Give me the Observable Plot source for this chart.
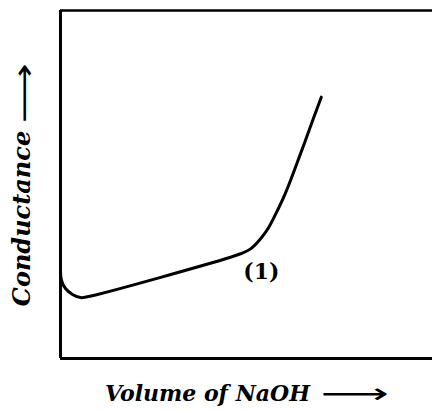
<!DOCTYPE html>
<html>
<head>
<meta charset="utf-8">
<script src="https://cdn.jsdelivr.net/npm/d3@7"></script>
<script src="https://cdn.jsdelivr.net/npm/@observablehq/plot@0.6"></script>
<style>
  html, body { margin: 0; padding: 0; background: #fff; }
</style>
</head>
<body>
<div id="chart"></div>
<script>
// Curve (arbitrary units: volume 0–100, conductance 0–100)
const volume      = [0, 0.27, 1.34, 3.23, 5.38, 7.53, 45.7, 48.4, 51.1, 53.8, 56.0, 58.3, 60.5, 64.5, 68.1, 70.1];
const conductance = [25.0, 22.4, 20.1, 18.4, 17.5, 17.8, 29.1, 30.1, 31.5, 34.4, 37.7, 42.5, 47.6, 58.8, 69.3, 75.1];
const pointLabels = ["(1)"];
const pointLabelX = [54.0];
const pointLabelY = [25.0];
const xLabel = "Volume of NaOH";
const yLabel = "Conductance";
const arrow = "⟶";

const curve = volume.map((v, i) => ({v, c: conductance[i]}));
const notes = pointLabels.map((t, i) => ({t, x: pointLabelX[i], y: pointLabelY[i]}));

const serif = "'DejaVu Serif', 'Liberation Serif', serif";
const common = {textAnchor: "middle", lineAnchor: "middle", fill: "black"};

const chart = Plot.plot({
  width: 433,
  height: 410,
  marginLeft: 60,
  marginRight: 1,
  marginTop: 10,
  marginBottom: 52,
  x: {domain: [0, 100], axis: null},
  y: {domain: [0, 100], axis: null},
  style: {background: "white", overflow: "visible"},
  marks: [
    Plot.ruleX([0], {stroke: "black", strokeWidth: 3}),
    Plot.ruleY([0], {stroke: "black", strokeWidth: 3}),
    Plot.ruleY([100], {stroke: "black", strokeWidth: 2.5}),
    Plot.line(curve, {x: "v", y: "c", stroke: "black", strokeWidth: 3, curve: "catmull-rom"}),
    Plot.text(notes, {x: "x", y: "y", text: "t", fontFamily: serif, fontWeight: "bold", fontSize: 22, ...common}),
    Plot.text([xLabel], {frameAnchor: "bottom", text: d => d, dy: 35, dx: -39, fontFamily: serif, fontWeight: "bold", fontStyle: "italic", fontSize: 22, ...common}),
    Plot.text([arrow], {frameAnchor: "bottom", text: d => d, dy: 36, dx: 108, fontFamily: "'DejaVu Sans', sans-serif", fontSize: 28, className: "arrow-x", ...common}),
    Plot.text([yLabel], {frameAnchor: "left", text: d => d, rotate: -90, dx: -38, dy: 34, fontFamily: serif, fontWeight: "bold", fontStyle: "italic", fontSize: 24, ...common}),
    Plot.text([arrow], {frameAnchor: "left", text: d => d, rotate: -90, dx: -36, dy: -91, fontFamily: "'DejaVu Sans', sans-serif", fontSize: 30, className: "arrow-y", ...common})
  ]
});
// stretch the long arrows to the lengths seen in the reference
d3.select(chart).selectAll(".arrow-x text").attr("textLength", 68).attr("lengthAdjust", "spacingAndGlyphs");
d3.select(chart).selectAll(".arrow-y text").attr("textLength", 60).attr("lengthAdjust", "spacingAndGlyphs");
document.getElementById("chart").appendChild(chart);
</script>
</body>
</html>
